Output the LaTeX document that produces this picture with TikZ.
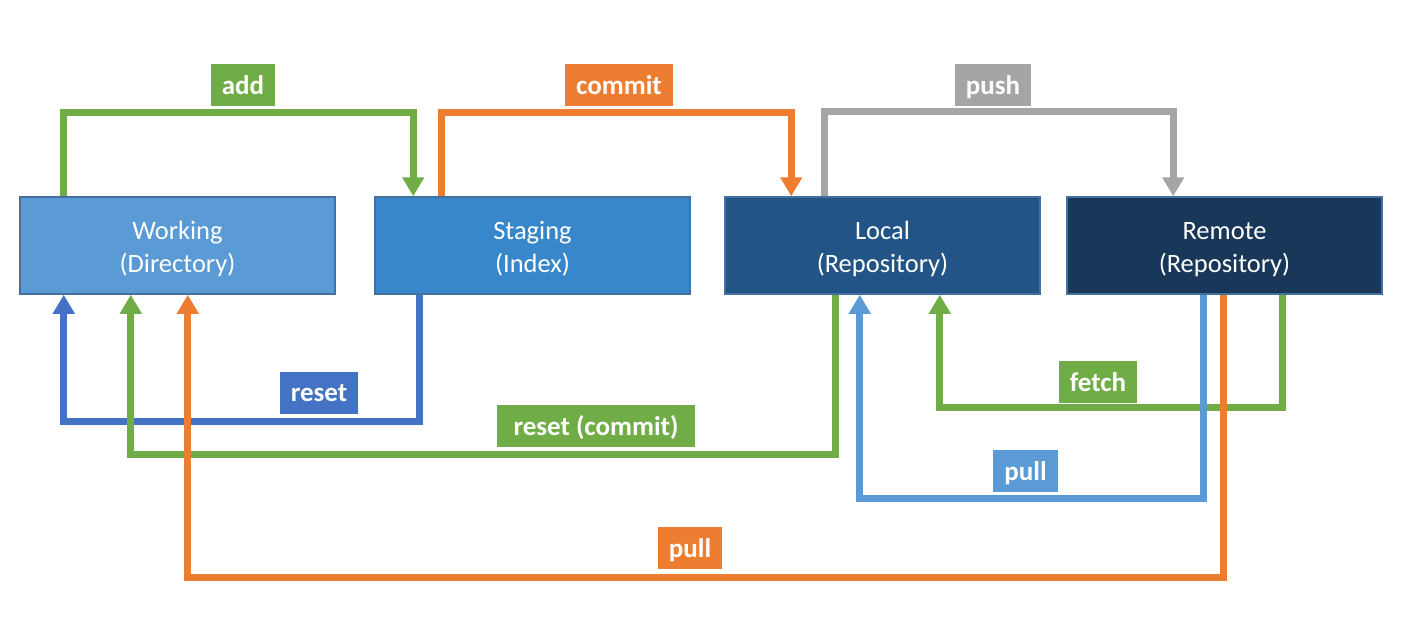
\documentclass[tikz,border=0pt]{standalone}
\usepackage{fontspec}
\setmainfont{Carlito}
\usetikzlibrary{arrows.meta}

\definecolor{workfill}{RGB}{91,155,213}
\definecolor{stagefill}{RGB}{57,135,203}
\definecolor{localfill}{RGB}{34,85,133}
\definecolor{remotefill}{RGB}{24,55,89}
\definecolor{boxline}{RGB}{65,113,156}
\definecolor{gitgreen}{RGB}{112,173,71}
\definecolor{gitorange}{RGB}{237,125,49}
\definecolor{gitgray}{RGB}{165,165,165}
\definecolor{gitblue}{RGB}{68,114,196}
\definecolor{gitsky}{RGB}{91,155,213}

\newcommand{\arealines}[2]{\begin{tabular}{@{}c@{}}\rule{0pt}{30pt}#1\\#2\end{tabular}}

\tikzset{
    area/.style={draw=boxline, fill=#1, line width=1.5pt, minimum width=315pt, minimum height=97pt,
        inner sep=0pt, text=white, font=\fontsize{26.5}{33}\selectfont},
    tag/.style={fill=#1, text=white, font=\bfseries\fontsize{27}{27}\selectfont,
        minimum height=42pt, inner xsep=11pt, inner ysep=0pt, text height=21pt, text depth=3pt},
    flow/.style={draw=#1, line width=7pt, -{Triangle[width=21pt,length=19pt]}},
}

\begin{document}
\begin{tikzpicture}[x=1pt, y=-1pt]
        \useasboundingbox (0,0) rectangle (1410,627);

        \node[area=workfill]   (work)   at (177.5,245.5)  {\arealines{Working}{(Directory)}};
        \node[area=stagefill]  (stage)  at (532.5,245.5)  {\arealines{Staging}{(Index)}};
        \node[area=localfill]  (local)  at (882.5,245.5)  {\arealines{Local}{(Repository)}};
        \node[area=remotefill] (remote) at (1224.5,245.5) {\arealines{Remote}{(Repository)}};

        % going up the chain
        \draw[flow=gitgreen]  ([xshift=44.5pt]work.north west)  -- ++(0,-83.5) -| ([xshift=39pt]stage.north west);
        \draw[flow=gitorange] ([xshift=67.5pt]stage.north west) -- ++(0,-84) -| ([xshift=67pt]local.north west);
        \draw[flow=gitgray]   ([xshift=100pt]local.north west)  -- ++(0,-85) -| ([xshift=107pt]remote.north west);

        % coming back down
        \draw[flow=gitblue]   ([xshift=45pt]stage.south west)    -- ++(0,126.5) -| ([xshift=44.5pt]work.south west);
        \draw[flow=gitgreen]  ([xshift=111.5pt]local.south west) -- ++(0,159.5) -| ([xshift=111.5pt]work.south west);
        \draw[flow=gitgreen]  ([xshift=216.5pt]remote.south west) -- ++(0,113) -| ([xshift=215.5pt]local.south west);
        \draw[flow=gitsky]    ([xshift=137pt]remote.south west)  -- ++(0,203.5) -| ([xshift=135.5pt]local.south west);
        \draw[flow=gitorange] ([xshift=157.5pt]remote.south west) -- ++(0,283) -| ([xshift=168.5pt]work.south west);

        \node[tag=gitgreen]  (add)    at (243,85)     {add};
        \node[tag=gitorange] (commit) at (619,85)     {commit};
        \node[tag=gitgray]   (push)   at (993,85)     {push};
        \node[tag=gitblue]   (reset)  at (319,392.5)  {reset};
        \node[tag=gitgreen, minimum width=198pt] (resetc) at (596,426) {reset (commit)};
        \node[tag=gitgreen]  (fetch)  at (1098,382)   {fetch};
        \node[tag=gitsky]    (pulll)  at (1025.5,471) {pull};
        \node[tag=gitorange] (pullw)  at (690,548)    {pull};
    \end{tikzpicture}
\end{document}
